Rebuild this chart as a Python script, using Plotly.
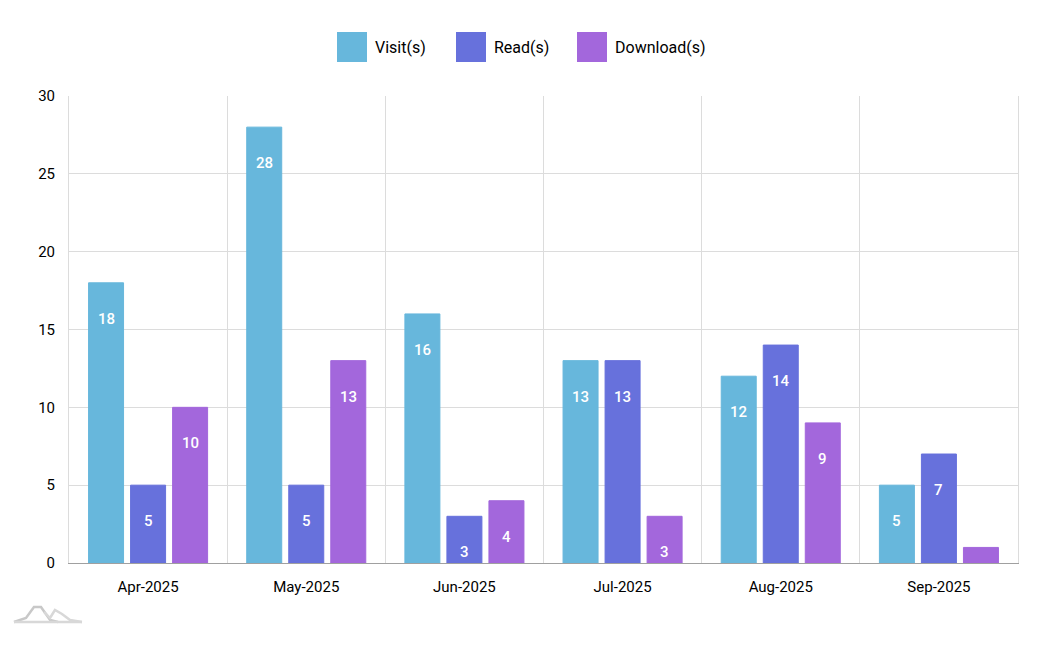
import plotly.graph_objects as go

months = ["Apr-2025", "May-2025", "Jun-2025", "Jul-2025", "Aug-2025", "Sep-2025"]
visits = [18, 28, 16, 13, 12, 5]
reads = [5, 5, 3, 13, 14, 7]
downloads = [10, 13, 4, 3, 9, 1]
series_names = ["Visit(s)", "Read(s)", "Download(s)"]
colors = ["#67b7dc", "#6771dc", "#a367dc"]

OFF = 8  # page body margin
W, H = 1042, 645
# desired plot area in screen pixels
SX0, SX1, SY0, SY1 = 69, 1018, 96, 563
ML, MT = SX0 - OFF, SY0 - OFF
MR = W - (SX1 - OFF)
MB = H - (SY1 - OFF)
PW, PH = SX1 - SX0, SY1 - SY0
BARGAP, GROUPGAP = 0.203, 0.167
FONT = "Roboto"


def px(x):
    return (x - SX0) / PW


def py(y):
    return (SY1 - y) / PH


idx = list(range(len(months)))
fig = go.Figure()
all_series = [visits, reads, downloads]
for name, vals, col in zip(series_names, all_series, colors):
    fig.add_trace(go.Bar(
        x=idx, y=vals, name=name,
        marker=dict(color=col, line=dict(color=col, width=1)),
        showlegend=False,
        hovertemplate="%{y}<extra>" + name + "</extra>",
    ))

# value labels inside bars, ~36px below the top of each bar
slot = (1 - BARGAP) / 3
annotations = []
for j, vals in enumerate(all_series):
    for i, v in zip(idx, vals):
        if v < 2:
            continue
        annotations.append(dict(
            x=i + (j - 1) * slot, y=v, xref="x", yref="y",
            text=str(v), showarrow=False, yanchor="middle", yshift=-36,
            font=dict(family=FONT, size=15, color="white", weight=500),
        ))

# custom legend
shapes = []
leg = [(337, 373), (456, 492), (577, 613)]
for (sx, tx), name, col in zip(leg, series_names, colors):
    shapes.append(dict(type="rect", xref="paper", yref="paper",
                       x0=px(sx), x1=px(sx + 30), y0=py(62), y1=py(32),
                       fillcolor=col, line=dict(width=0), layer="above"))
    annotations.append(dict(x=px(tx), y=py(47), xref="paper", yref="paper",
                            text=name, showarrow=False, xanchor="left",
                            yanchor="middle",
                            font=dict(family=FONT, size=16, color="#000")))

# small logo mark at bottom-left
pts1 = [(14, 622), (26, 618), (34, 607), (41, 607), (50, 620), (58, 622)]
pts2 = [(44, 612), (50, 618), (55, 610), (62, 614), (70, 620), (82, 622)]
for pts, c in [(pts1, "#c8c8c8"), (pts2, "#d8d8d8")]:
    path = "M " + " L ".join(f"{px(a):.4f},{py(b):.4f}" for a, b in pts)
    shapes.append(dict(type="path", xref="paper", yref="paper", path=path,
                       line=dict(color=c, width=2.5)))
shapes.append(dict(type="line", xref="paper", yref="paper",
                   x0=px(14), x1=px(82), y0=py(622), y1=py(622),
                   line=dict(color="#d8d8d8", width=2.5)))

fig.update_layout(
    width=W, height=H,
    margin=dict(l=ML, r=MR, t=MT, b=MB),
    paper_bgcolor="white", plot_bgcolor="white",
    barmode="group", bargap=BARGAP, bargroupgap=GROUPGAP,
    font=dict(family=FONT, size=15, color="#000"),
    annotations=annotations, shapes=shapes,
    xaxis=dict(
        range=[-0.5, len(months) - 0.5],
        tickmode="array", tickvals=idx, ticktext=months,
        showgrid=False, zeroline=False,
        showline=True, linecolor="#a0a0a0", linewidth=1,
        ticks="outside", ticklen=10, tickcolor="rgba(0,0,0,0)",
        tickfont=dict(family=FONT, size=15, color="#000"),
        minor=dict(tickvals=[i + 0.5 for i in idx[:-1]], showgrid=True,
                   gridcolor="#dcdcdc", gridwidth=1, ticks=""),
    ),
    yaxis=dict(
        range=[0, 30], tickmode="linear", tick0=0, dtick=5,
        showgrid=True, gridcolor="#dcdcdc", gridwidth=1,
        zeroline=False,
        showline=True, mirror=True, linecolor="#dcdcdc", linewidth=1,
        ticks="outside", ticklen=10, tickcolor="rgba(0,0,0,0)",
        tickfont=dict(family=FONT, size=15, color="#000"),
    ),
)

fig.write_html("out.html")
